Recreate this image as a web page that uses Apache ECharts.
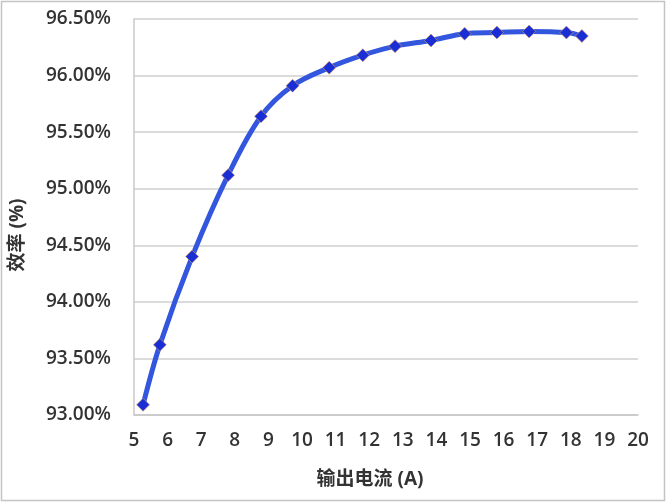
<!DOCTYPE html>
<html>
<head>
<meta charset="utf-8">
<script src="https://cdn.jsdelivr.net/npm/echarts@6/dist/echarts.min.js"></script>
<style>
html,body{margin:0;padding:0;background:#fff;}
#chart{width:667px;height:503px;}
</style>
</head>
<body>
<div id="chart"></div>
<script>
// Data
var currentA = [5.27, 5.77, 6.73, 7.80, 8.78, 9.72, 10.81, 11.81, 12.77, 13.84, 14.84, 15.80, 16.76, 17.87, 18.33];
var efficiencyPct = [93.09, 93.62, 94.40, 95.12, 95.64, 95.91, 96.07, 96.18, 96.26, 96.31, 96.37, 96.38, 96.39, 96.38, 96.35];
var xTicks = [5, 6, 7, 8, 9, 10, 11, 12, 13, 14, 15, 16, 17, 18, 19, 20];
var yTicks = [93.0, 93.5, 94.0, 94.5, 95.0, 95.5, 96.0, 96.5];
var xName = '输出电流 (A)';
var yName = '效率 (%)';

var FONT = '"Open Sans", "Noto Sans CJK SC", sans-serif';
var chart = echarts.init(document.getElementById('chart'), null, {renderer: 'canvas'});

var pts = currentA.map(function (x, i) { return [x, efficiencyPct[i]]; });

chart.setOption({
  animation: false,
  backgroundColor: '#ffffff',
  grid: {left: 134, right: 29, top: 19, bottom: 88, containLabel: false},
  xAxis: {
    type: 'value',
    min: xTicks[0],
    max: xTicks[xTicks.length - 1],
    interval: 1,
    axisLine: {show: true, lineStyle: {color: '#c8c8c8', width: 1.5}},
    axisTick: {show: false},
    splitLine: {show: false},
    axisLabel: {
      color: '#333333', fontSize: 19, fontWeight: 600, fontFamily: FONT, margin: 16,
      formatter: function (v) { return xTicks.indexOf(v) >= 0 ? String(v) : ''; }
    }
  },
  yAxis: {
    type: 'value',
    min: yTicks[0],
    max: yTicks[yTicks.length - 1],
    interval: 0.5,
    axisLine: {show: true, lineStyle: {color: '#c8c8c8', width: 1.5}},
    axisTick: {show: false},
    splitLine: {show: true, lineStyle: {color: '#cfcfcf', width: 1.5}},
    axisLabel: {
      color: '#333333', fontSize: 19, fontWeight: 600, fontFamily: FONT, margin: 23,
      formatter: function (v) { return v.toFixed(2) + '%'; }
    }
  },
  graphic: [
    {type: 'rect', silent: true, z: -1,
      shape: {x: 1.5, y: 1.5, width: 663, height: 499},
      style: {fill: 'none', stroke: '#c4c4c4', lineWidth: 1.5}},
    {type: 'text', x: 370, y: 480, silent: true,
      style: {text: xName, fill: '#333333', fontSize: 19, fontWeight: 'bold', fontFamily: FONT,
        align: 'center', verticalAlign: 'middle'}},
    {type: 'text', x: 18, y: 235, rotation: Math.PI / 2, silent: true,
      style: {text: yName, fill: '#333333', fontSize: 19, fontWeight: 'bold', fontFamily: FONT,
        align: 'center', verticalAlign: 'middle'}}
  ],
  series: [{
    type: 'line',
    data: pts,
    smooth: 0.35,
    lineStyle: {color: '#3356de', width: 5},
    symbol: 'diamond',
    symbolSize: 13,
    itemStyle: {color: '#1a2ed6', borderColor: '#e0a060', borderWidth: 0.6},
    z: 3
  }]
});
</script>
</body>
</html>
